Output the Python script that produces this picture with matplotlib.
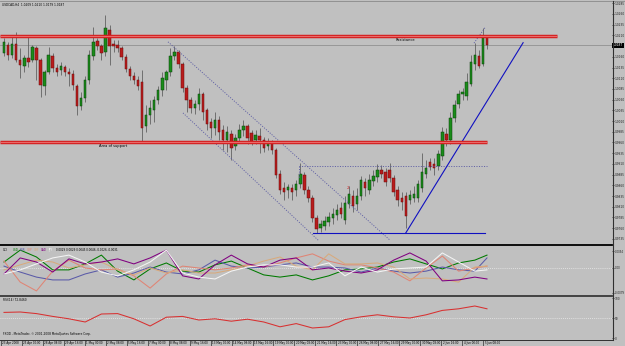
import matplotlib
matplotlib.use("Agg")
import matplotlib.pyplot as plt
from matplotlib.lines import Line2D
import numpy as np

W, H = 625, 346
BG = "#c0c0c0"

# ---- price data (USDCAD H4), one entry per bar ----
opens = [
    1.0169, 1.0188, 1.0165, 1.0190, 1.0153, 1.0139, 1.0158, 1.0153, 1.0181, 1.0153,
    1.0092, 1.0125, 1.0162, 1.0134, 1.0129, 1.0136, 1.0125, 1.0120, 1.0092, 1.0045,
    1.0064, 1.0106, 1.0162, 1.0197, 1.0186, 1.0172, 1.0223, 1.0190, 1.0188, 1.0181,
    1.0160, 1.0132, 1.0115, 1.0106, 1.0101, 0.9999, 1.0024, 1.0036, 1.0059, 1.0083,
    1.0106, 1.0125, 1.0162, 1.0172, 1.0143, 1.0087, 1.0059, 1.0041, 1.0050, 1.0073,
    1.0036, 1.0008, 0.9994, 1.0013, 0.9989, 0.9966, 0.9980, 0.9952, 0.9971, 0.9989,
    0.9999, 0.9982, 0.9966, 0.9975, 0.9966, 0.9952, 0.9961, 0.9943, 0.9887, 0.9854,
    0.9849, 0.9854, 0.9849, 0.9863, 0.9884, 0.9849, 0.9830, 0.9784, 0.9760, 0.9765,
    0.9774, 0.9784, 0.9791, 0.9807, 0.9779, 0.9816, 0.9835, 0.9816, 0.9835, 0.9868,
    0.9849, 0.9870, 0.9880, 0.9896, 0.9891, 0.9896, 0.9877, 0.9849, 0.9830, 0.9835,
    0.9826, 0.9830, 0.9830, 0.9854, 0.9887, 0.9915, 0.9910, 0.9905, 0.9929, 0.9980,
    0.9966, 1.0017, 1.0050, 1.0073, 1.0069, 1.0097, 1.0143, 1.0162, 1.0143, 1.0209,
]
closes = [
    1.0195, 1.0165, 1.0190, 1.0153, 1.0141, 1.0158, 1.0148, 1.0183, 1.0153, 1.0094,
    1.0125, 1.0165, 1.0134, 1.0125, 1.0139, 1.0125, 1.0120, 1.0094, 1.0045, 1.0064,
    1.0106, 1.0165, 1.0195, 1.0186, 1.0169, 1.0228, 1.0186, 1.0186, 1.0181, 1.0160,
    1.0132, 1.0115, 1.0106, 1.0092, 0.9994, 1.0024, 1.0041, 1.0059, 1.0083, 1.0111,
    1.0125, 1.0162, 1.0172, 1.0143, 1.0087, 1.0059, 1.0041, 1.0050, 1.0073, 1.0031,
    1.0003, 0.9994, 1.0013, 0.9985, 0.9966, 0.9985, 0.9947, 0.9971, 0.9989, 0.9999,
    0.9971, 0.9961, 0.9978, 0.9966, 0.9947, 0.9961, 0.9943, 0.9884, 0.9849, 0.9844,
    0.9856, 0.9844, 0.9863, 0.9887, 0.9849, 0.9830, 0.9784, 0.9758, 0.9770, 0.9777,
    0.9786, 0.9793, 0.9802, 0.9793, 0.9819, 0.9840, 0.9812, 0.9835, 0.9873, 0.9854,
    0.9873, 0.9882, 0.9896, 0.9887, 0.9868, 0.9877, 0.9844, 0.9826, 0.9821, 0.9788,
    0.9838, 0.9840, 0.9863, 0.9891, 0.9901, 0.9903, 0.9901, 0.9933, 0.9985, 0.9966,
    1.0017, 1.0048, 1.0073, 1.0078, 1.0101, 1.0148, 1.0165, 1.0139, 1.0204, 1.0187,
]
highs = [
    1.0204, 1.0195, 1.0209, 1.0218, 1.0181, 1.0165, 1.0211, 1.0188, 1.0186, 1.0158,
    1.0129, 1.0183, 1.0169, 1.0143, 1.0148, 1.0141, 1.0134, 1.0129, 1.0097, 1.0078,
    1.0115, 1.0176, 1.0230, 1.0204, 1.0190, 1.0258, 1.0235, 1.0200, 1.0200, 1.0186,
    1.0167, 1.0139, 1.0125, 1.0115, 1.0129, 1.0048, 1.0059, 1.0069, 1.0092, 1.0125,
    1.0129, 1.0181, 1.0186, 1.0176, 1.0148, 1.0094, 1.0066, 1.0059, 1.0087, 1.0078,
    1.0041, 1.0017, 1.0031, 1.0022, 1.0001, 0.9999, 0.9989, 0.9980, 1.0003, 1.0013,
    1.0003, 0.9989, 0.9989, 0.9994, 0.9973, 0.9971, 0.9966, 0.9947, 0.9896, 0.9868,
    0.9863, 0.9863, 0.9873, 0.9912, 0.9891, 0.9858, 0.9838, 0.9791, 0.9779, 0.9788,
    0.9798, 0.9807, 0.9816, 0.9821, 0.9835, 0.9858, 0.9849, 0.9854, 0.9882, 0.9877,
    0.9887, 0.9896, 0.9910, 0.9908, 0.9901, 0.9912, 0.9884, 0.9858, 0.9844, 0.9844,
    0.9849, 0.9858, 0.9873, 0.9936, 0.9919, 0.9924, 0.9924, 0.9943, 0.9996, 0.9994,
    1.0031, 1.0059, 1.0083, 1.0087, 1.0122, 1.0165, 1.0193, 1.0176, 1.0228, 1.0210,
]
lows = [
    1.0162, 1.0153, 1.0158, 1.0148, 1.0111, 1.0125, 1.0136, 1.0148, 1.0106, 1.0066,
    1.0071, 1.0120, 1.0125, 1.0115, 1.0118, 1.0115, 1.0092, 1.0083, 1.0024, 1.0036,
    1.0055, 1.0097, 1.0153, 1.0176, 1.0153, 1.0162, 1.0141, 1.0172, 1.0172, 1.0153,
    1.0125, 1.0106, 1.0097, 1.0083, 0.9961, 0.9985, 1.0003, 1.0008, 1.0050, 1.0069,
    1.0083, 1.0115, 1.0153, 1.0134, 1.0078, 1.0031, 1.0029, 1.0027, 1.0036, 1.0013,
    0.9989, 0.9971, 0.9978, 0.9966, 0.9943, 0.9938, 0.9919, 0.9943, 0.9961, 0.9975,
    0.9957, 0.9954, 0.9957, 0.9936, 0.9938, 0.9943, 0.9933, 0.9877, 0.9840, 0.9826,
    0.9830, 0.9826, 0.9835, 0.9854, 0.9840, 0.9821, 0.9774, 0.9749, 0.9751, 0.9756,
    0.9765, 0.9770, 0.9779, 0.9784, 0.9770, 0.9807, 0.9798, 0.9802, 0.9826, 0.9835,
    0.9840, 0.9858, 0.9868, 0.9877, 0.9858, 0.9868, 0.9835, 0.9812, 0.9802, 0.9760,
    0.9816, 0.9821, 0.9821, 0.9844, 0.9877, 0.9896, 0.9884, 0.9896, 0.9919, 0.9952,
    0.9957, 1.0008, 1.0041, 1.0059, 1.0059, 1.0092, 1.0129, 1.0134, 1.0139, 1.0179,
]

header = "USDCAD,H4  1.0209 1.0210 1.0179 1.0187"
bid = 1.0187
resistance = 1.0209
support = 0.9961
price_ticks = [1.0285, 1.0260, 1.0235, 1.0210, 1.0160, 1.0135, 1.0110, 1.0085,
               1.0060, 1.0035, 1.0010, 0.9985, 0.9960, 0.9935, 0.9910, 0.9885,
               0.9860, 0.9835, 0.9810, 0.9785, 0.9760, 0.9735]

# drawn objects: (bar, price) end points
resistance_span = (-1.0, 136.2)
support_span = (-1.0, 119.0)
channel_upper = [(40.4, 1.0195), (95.1, 0.9732)]
channel_lower = [(44.1, 1.0029), (77.4, 0.9732)]
box_top = [(72.7, 0.9906), (119.0, 0.9906)]
box_side = [(72.7, 0.9906), (72.7, 0.9877)]
base_line = [(76.1, 0.9749), (118.5, 0.9749)]
trend_line = [(99.0, 0.9749), (127.9, 1.0193)]
top_dots = [(115.8, 1.0192), (118.5, 1.0228)]
wave_mark = (84.7, 0.9849)

# ---- currency strength window (sampled every 4 bars) ----
ind_bars = list(range(0, 120, 4)) + [119]
cci_usd = [0.0019, 0.0057, 0.0035, -0.0006, -0.0006, 0.0013, 0.0041, -0.0010, -0.0038, -0.0003,
           0.0016, -0.0010, -0.0013, 0.0010, 0.0022, 0.0000, -0.0022, -0.0029, -0.0022, -0.0038,
           -0.0025, -0.0006, -0.0003, 0.0003, 0.0019, 0.0029, 0.0013, -0.0003, 0.0016, 0.0025, 0.0041]
cci_eur = [0.0006, -0.0013, -0.0029, -0.0038, -0.0038, -0.0019, -0.0006, -0.0029, -0.0016, 0.0003,
           -0.0013, -0.0019, -0.0006, 0.0025, 0.0006, 0.0000, 0.0003, 0.0010, 0.0016, 0.0003,
           0.0003, 0.0000, -0.0013, 0.0000, -0.0010, -0.0016, -0.0010, 0.0003, -0.0006, -0.0010, 0.0032]
cci_gbp = [0.0022, -0.0045, -0.0073, -0.0010, 0.0025, 0.0000, -0.0006, -0.0003, -0.0025, -0.0064,
           -0.0019, 0.0006, 0.0000, -0.0006, 0.0000, 0.0010, 0.0003, 0.0016, 0.0032, 0.0045,
           0.0022, 0.0010, 0.0010, 0.0000, -0.0013, -0.0041, 0.0000, 0.0038, -0.0010, 0.0000, 0.0006]
cci_chf = [-0.0006, 0.0010, 0.0025, 0.0019, 0.0000, 0.0010, 0.0019, -0.0006, -0.0022, 0.0000,
           -0.0016, -0.0006, -0.0016, -0.0016, -0.0006, 0.0006, 0.0022, 0.0035, 0.0006, -0.0006,
           0.0045, 0.0013, 0.0013, 0.0016, 0.0003, -0.0035, -0.0032, -0.0035, -0.0045, 0.0003, 0.0006]
cci_cad = [-0.0019, 0.0032, 0.0019, -0.0013, 0.0029, 0.0013, 0.0019, 0.0029, 0.0013, 0.0032,
           0.0057, -0.0025, -0.0035, 0.0010, 0.0041, 0.0013, 0.0003, 0.0025, 0.0032, -0.0006,
           0.0000, -0.0010, -0.0016, -0.0006, 0.0025, 0.0048, 0.0022, -0.0041, -0.0038, -0.0029, -0.0035]
cci_jpy = [-0.0019, -0.0006, 0.0013, 0.0032, 0.0041, 0.0019, -0.0013, -0.0025, -0.0006, 0.0019,
           0.0057, -0.0016, -0.0029, -0.0035, -0.0010, 0.0003, 0.0010, 0.0010, 0.0003, 0.0003,
           0.0016, -0.0025, 0.0003, -0.0013, -0.0003, 0.0000, 0.0003, 0.0048, 0.0019, -0.0010, -0.0006]
cci_names = ["USD", "EUR", "GBP", "CHF", "CAD", "JPY"]
cci_colors = ["#007a00", "#5a5aa8", "#e08474", "#d8aa7c", "#800080", "#f4f4f4"]
cci_header_vals = "0.0029 0.0029 0.0045 0.0046 -0.0026 -0.0031"
cci_ticks = [0.0054, 0.0, -0.0079]
cci_ticklabels = ["0.0054", "0.00", "-0.0079"]

rsi = [64, 65, 61, 54, 48, 40, 60, 61, 48, 30,
       52, 54, 45, 48, 42, 47, 40, 28, 36, 25,
       28, 46, 53, 58, 53, 50, 58, 69, 73, 80, 73]
rsi_header = "RSI(14) 72.8460"

time_labels = ["23 Apr 2008", "25 Apr 00:00", "28 Apr 08:00", "29 Apr 16:00", "1 May 00:00",
               "2 May 08:00", "5 May 16:00", "7 May 00:00", "8 May 08:00", "9 May 16:00",
               "13 May 00:00", "14 May 08:00", "15 May 16:00", "19 May 00:00", "20 May 08:00",
               "21 May 16:00", "23 May 00:00", "26 May 08:00", "27 May 16:00", "29 May 00:00",
               "30 May 08:00", "2 Jun 16:00", "4 Jun 00:00", "5 Jun 08:00"]
copyright_txt = "FXDD - MetaTrader, \u00a9 2001-2008 MetaQuotes Software Corp."

# ---- layout ----
XLIM = (-0.985, 149.8)
fig = plt.figure(figsize=(W / 100, H / 100), dpi=100, facecolor=BG)


def axes_px(x0, y0, x1, y1, labelsize=2.1):
    ax = fig.add_axes([x0 / W, 1 - y1 / H, (x1 - x0) / W, (y1 - y0) / H])
    ax.set_facecolor(BG)
    for s in ax.spines.values():
        s.set_visible(False)
    ax.set_xlim(*XLIM)
    ax.set_xticks([])
    ax.yaxis.tick_right()
    ax.tick_params(axis="y", length=1.4, width=0.5, pad=0.4, labelsize=labelsize, colors="#202020")
    return ax


def fig_line(x0, y0, x1, y1, **kw):
    fig.add_artist(Line2D([x0 / W, x1 / W], [1 - y0 / H, 1 - y1 / H], transform=fig.transFigure, **kw))


def fig_text(x, y, s, **kw):
    kw.setdefault("fontsize", 2.3)
    kw.setdefault("color", "black")
    fig.text(x / W, 1 - y / H, s, va="center", ha="left", **kw)


# main price window
ax = axes_px(0, 2, 612, 244)
ax.set_ylim(0.9723, 1.0288)
ax.set_yticks(price_ticks)
ax.set_yticklabels([f"{p:.4f}" for p in price_ticks])

o, c = np.array(opens), np.array(closes)
hi, lo = np.array(highs), np.array(lows)
x = np.arange(len(o))
up = c >= o
ax.vlines(x, lo, hi, color="#5a5a5a", lw=0.55, zorder=2)
body_lo = np.minimum(o, c)
body_h = np.maximum(np.abs(c - o), 0.00006)
ax.bar(x[up], body_h[up], bottom=body_lo[up], width=0.6, color="#1a8c1a",
       edgecolor="#0b3d0b", linewidth=0.35, zorder=3)
ax.bar(x[~up], body_h[~up], bottom=body_lo[~up], width=0.6, color="#b81c1c",
       edgecolor="#6a0c0c", linewidth=0.35, zorder=3)

# bid line
ax.axhline(bid, color="#8c8c8c", lw=0.55, zorder=1)

# horizontal zones
for level, span in ((resistance, resistance_span), (support, support_span)):
    ax.plot(span, [level, level], color="#d42020", lw=2.5, solid_capstyle="butt", zorder=6)
    ax.plot(span, [level, level], color="#e86a6a", lw=0.8, solid_capstyle="butt", zorder=7)

dot = dict(color="#5c5ca4", lw=0.65, ls=(0, (1.2, 1.6)), zorder=5)
for seg in (channel_upper, channel_lower, box_top, box_side, top_dots):
    ax.plot([p[0] for p in seg], [p[1] for p in seg], **dot)
for seg in (base_line, trend_line):
    ax.plot([p[0] for p in seg], [p[1] for p in seg], color="#1010c0", lw=0.8, zorder=5)

ax.text(98.8, resistance - 0.0004, "Resistance", fontsize=2.6, ha="center", va="top", color="black", zorder=8)
ax.text(26.9, support - 0.0004, "Area of support", fontsize=2.6, ha="center", va="top", color="black", zorder=8)
ax.text(wave_mark[0], wave_mark[1], "2", fontsize=3, ha="center", va="bottom", color="#d02020", zorder=8)

ax.text(1.0 + 0.6 / 612, bid, f"{bid:.4f}", transform=ax.get_yaxis_transform(), fontsize=2.1, color="white",
        va="center", ha="left", bbox=dict(facecolor="black", edgecolor="none", pad=0.5), clip_on=False)

# currency strength window
cci = axes_px(0, 246, 612, 295, labelsize=1.9)
cci.set_ylim(-0.0086, 0.0070)
cci.set_yticks(cci_ticks)
cci.set_yticklabels(cci_ticklabels)
cci.axhline(0, color="#ececec", lw=0.6, ls=(0, (1, 1.5)), zorder=1)
for vals, col in zip([cci_usd, cci_eur, cci_gbp, cci_chf, cci_cad, cci_jpy], cci_colors):
    cci.plot(ind_bars, vals, color=col, lw=0.75, zorder=3, solid_joinstyle="round")

# RSI window
rs = axes_px(0, 297, 612, 339)
rs.set_ylim(-2.5, 102.5)
rs.set_yticks([100, 50, 0])
rs.set_yticklabels(["100", "50", "0"])
rs.axhline(50, color="#ececec", lw=0.6, ls=(0, (1, 1.5)), zorder=1)
rs.plot(ind_bars, rsi, color="#d83030", lw=0.75, zorder=3)

# frame and separators
fig_line(0, 1, W, 1, color="#8a8a8a", lw=0.6)
fig_line(0, 245, 612, 245, color="black", lw=1.3)
fig_line(0, 296, 612, 296, color="#383838", lw=1.3)
fig_line(0, 339.5, 612, 339.5, color="#303030", lw=0.7)
fig_line(612.5, 1, 612.5, 340, color="#303030", lw=0.8)

# texts
fig_text(2, 5, header, fontsize=2.1)
fig_text(3, 250, "CCI", fontsize=2.1)
for k, (name, col) in enumerate(zip(cci_names, cci_colors)):
    fig_text(13 + 7 * k, 250, name, fontsize=2.0, color=col)
fig_text(56, 250, cci_header_vals, fontsize=2.0)
fig_text(3, 300, rsi_header, fontsize=2.1)
fig_text(3, 334, copyright_txt, fontsize=2.1)

label_step = 20.96
for k, lab in enumerate(time_labels):
    xp = 1 + label_step * k
    fig_line(xp, 339.5, xp, 346, color="#303030", lw=0.5)
    fig_text(xp + 1.5, 343, lab, fontsize=2.0)

fig.savefig("out.png", dpi=100, facecolor=BG)
